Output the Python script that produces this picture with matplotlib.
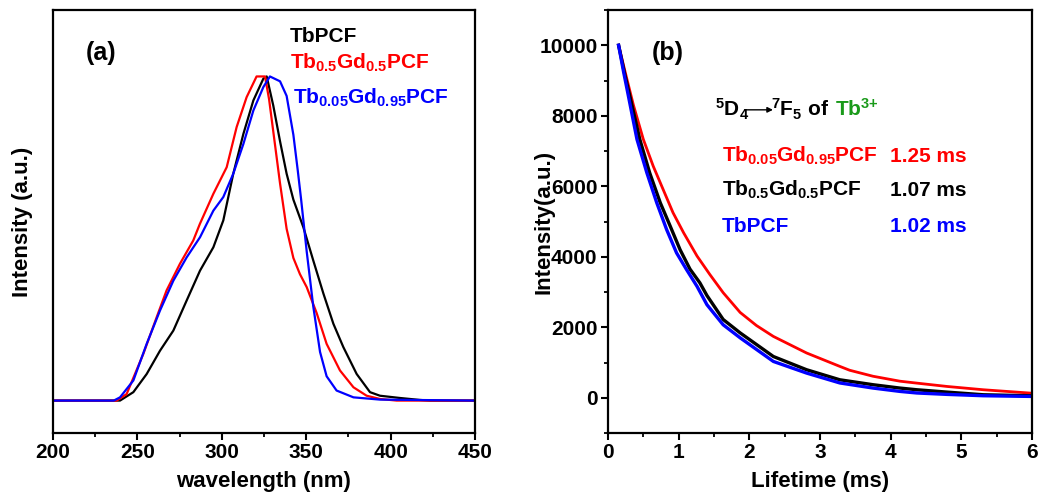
import matplotlib
matplotlib.use('Agg')
import matplotlib.pyplot as plt
from matplotlib.ticker import MultipleLocator

plt.rcParams['font.family'] = ['Liberation Sans', 'DejaVu Sans']
plt.rcParams['font.weight'] = 'bold'
plt.rcParams['mathtext.fontset'] = 'custom'
plt.rcParams['mathtext.rm'] = 'Liberation Sans:bold'
plt.rcParams['mathtext.it'] = 'Liberation Sans:bold'
plt.rcParams['mathtext.bf'] = 'Liberation Sans:bold'
plt.rcParams['mathtext.default'] = 'rm'

# (a) excitation spectra, normalised
tb_wl = [200, 239.7, 247.6, 255.5, 263.4, 271.3, 279.2, 287.1, 295.0, 300.9,
         306.8, 312.8, 318.7, 324.6, 326.6, 330.5, 334.5, 338.4, 342.4, 348.3,
         354.2, 360.2, 366.1, 372.0, 379.9, 387.8, 393.7, 405.6, 417.4, 423.3,
         450]
tb_int = [0, 0, 0.026, 0.082, 0.154, 0.216, 0.309, 0.401, 0.473, 0.556,
          0.70, 0.823, 0.926, 0.993, 1.0, 0.91, 0.80, 0.70, 0.62, 0.535,
          0.432, 0.33, 0.237, 0.165, 0.082, 0.026, 0.015, 0.008, 0.002, 0,
          0]

tb05_wl = [200, 237.7, 243.6, 248.0, 253.5, 261.4, 267.3, 275.2, 283.1, 287.0,
           295.0, 302.9, 308.8, 314.7, 320.6, 325.6, 328.0, 330.5, 334.5, 338.4,
           342.4, 346.3, 350.3, 356.2, 362.1, 370.0, 378.0, 385.8, 393.7, 403.6,
           450]
tb05_int = [0, 0, 0.02, 0.075, 0.144, 0.257, 0.34, 0.422, 0.494, 0.545,
            0.638, 0.72, 0.844, 0.936, 1.0, 1.0, 0.93, 0.83, 0.67, 0.53,
            0.44, 0.39, 0.35, 0.27, 0.175, 0.093, 0.041, 0.015, 0.005, 0,
            0]

tb005_wl = [200, 236.0, 239.7, 247.6, 255.5, 263.4, 271.3, 279.2, 287.1, 295.0,
            300.9, 306.8, 312.8, 318.7, 324.6, 328.5, 334.5, 338.4, 342.4, 345.0,
            347.0, 350.3, 354.2, 358.2, 362.1, 368.0, 378.0, 393.7, 450]
tb005_int = [0, 0, 0.01, 0.062, 0.175, 0.278, 0.37, 0.442, 0.504, 0.586,
             0.628, 0.70, 0.792, 0.895, 0.967, 1.0, 0.985, 0.94, 0.82, 0.71,
             0.62, 0.46, 0.29, 0.15, 0.075, 0.031, 0.01, 0.003, 0]

# (b) decay curves
red_t = [0.15, 0.26, 0.36, 0.50, 0.64, 0.78, 0.92, 1.07, 1.26, 1.44, 1.63,
         1.87, 2.10, 2.34, 2.81, 3.28, 3.42, 3.75, 4.13, 4.37, 4.80, 5.31,
         5.97]
red_v = [10000, 9100, 8300, 7330, 6570, 5910, 5250, 4680, 4020, 3500, 2980,
         2420, 2050, 1740, 1270, 890, 780, 610, 470, 415, 320, 227,
         133]

blk_t = [0.15, 0.24, 0.31, 0.45, 0.59, 0.74, 0.88, 1.02, 1.16, 1.30, 1.40,
         1.63, 1.87, 2.34, 2.81, 3.28, 3.75, 4.13, 4.37, 4.80, 5.31, 5.97]
blk_v = [10000, 9150, 8550, 7330, 6380, 5530, 4870, 4200, 3650, 3260, 2900,
         2220, 1840, 1170, 795, 510, 370, 275, 227, 160, 85, 57]

blu_t = [0.15, 0.22, 0.26, 0.41, 0.55, 0.69, 0.83, 0.97, 1.11, 1.26, 1.40,
         1.63, 1.87, 2.34, 2.81, 3.28, 3.75, 4.13, 4.37, 4.80, 5.31, 5.97]
blu_v = [10000, 9250, 8850, 7330, 6380, 5530, 4770, 4110, 3640, 3160, 2640,
         2070, 1700, 1030, 700, 420, 275, 180, 135, 95, 57, 38]

fig = plt.figure(figsize=(10.4, 4.99), dpi=100)
ax1 = fig.add_axes([53 / 1040, 66 / 499, 422 / 1040, 423 / 499])
ax2 = fig.add_axes([608 / 1040, 66 / 499, 424 / 1040, 423 / 499])

for ax in (ax1, ax2):
    for s in ax.spines.values():
        s.set_linewidth(1.6)
    ax.tick_params(which='major', direction='out', length=5, width=1.5,
                   labelsize=15, pad=2.5, top=False, right=False)
    ax.tick_params(which='minor', direction='out', length=3, width=1.3,
                   top=False, right=False)

ax1.plot(tb_wl, tb_int, color='black', lw=1.6)
ax1.plot(tb05_wl, tb05_int, color='red', lw=1.6)
ax1.plot(tb005_wl, tb005_int, color='blue', lw=1.6)
ax1.set_xlim(200, 450)
ax1.set_ylim(-0.10, 1.205)
ax1.xaxis.set_major_locator(MultipleLocator(50))
ax1.xaxis.set_minor_locator(MultipleLocator(25))
ax1.set_yticks([])
ax1.set_xlabel('wavelength (nm)', fontsize=16, fontweight='bold')
ax1.set_ylabel('Intensity (a.u.)', fontsize=16, fontweight='bold')
ax1.xaxis.set_label_coords(0.5, -0.09)
ax1.yaxis.set_label_coords(-0.047, 0.5)

ax1.text(0.078, 0.882, '(a)', transform=ax1.transAxes, fontsize=18,
         fontweight='bold', va='baseline')
ax1.text(0.562, 0.925, 'TbPCF', transform=ax1.transAxes, fontsize=15,
         color='black', va='baseline')
ax1.text(0.562, 0.862, r'Tb$_{0.5}$Gd$_{0.5}$PCF', transform=ax1.transAxes,
         fontsize=15, color='red', va='baseline')
ax1.text(0.568, 0.779, r'Tb$_{0.05}$Gd$_{0.95}$PCF', transform=ax1.transAxes,
         fontsize=15, color='blue', va='baseline')

ax2.plot(red_t, red_v, color='red', lw=2.0)
ax2.plot(blk_t, blk_v, color='black', lw=2.4)
ax2.plot(blu_t, blu_v, color='blue', lw=2.4)
ax2.set_xlim(0, 6)
ax2.set_ylim(-1000, 11000)
ax2.xaxis.set_major_locator(MultipleLocator(1))
ax2.xaxis.set_minor_locator(MultipleLocator(0.5))
ax2.yaxis.set_major_locator(MultipleLocator(2000))
ax2.yaxis.set_minor_locator(MultipleLocator(1000))
ax2.set_yticks([0, 2000, 4000, 6000, 8000, 10000])
ax2.set_xlabel('Lifetime (ms)', fontsize=16, fontweight='bold')
ax2.set_ylabel('Intensity(a.u.)', fontsize=16, fontweight='bold')
ax2.xaxis.set_label_coords(0.5, -0.09)
ax2.yaxis.set_label_coords(-0.125, 0.5)

ax2.text(0.104, 0.882, '(b)', transform=ax2.transAxes, fontsize=18,
         fontweight='bold', va='baseline')

# transition label: 5D4 -> 7F5 of Tb3+
ax2.text(0.252, 0.749, r'$^{5}$D$_{4}$', transform=ax2.transAxes,
         fontsize=15, color='black', va='baseline')
ax2.annotate('', xy=(0.389, 0.764), xytext=(0.322, 0.764),
             xycoords='axes fraction',
             arrowprops=dict(arrowstyle='-|>', lw=1.0, color='black',
                             mutation_scale=8, shrinkA=0, shrinkB=0))
t2 = ax2.text(0.384, 0.749, r'$^{7}$F$_{5}$ of', transform=ax2.transAxes,
              fontsize=15, color='black', va='baseline')
fig.canvas.draw()
bb = t2.get_window_extent().transformed(ax2.transAxes.inverted())
ax2.text(bb.x1 + 0.014, 0.749, r'Tb$^{3{+}}$', transform=ax2.transAxes,
         fontsize=15, color='#1a9a1a', va='baseline')

rows = [(r'Tb$_{0.05}$Gd$_{0.95}$PCF', '1.25 ms', 'red', 0.641),
        (r'Tb$_{0.5}$Gd$_{0.5}$PCF', '1.07 ms', 'black', 0.560),
        ('TbPCF', '1.02 ms', 'blue', 0.474)]
for name, tau, col, y in rows:
    ax2.text(0.269, y, name, transform=ax2.transAxes, fontsize=15, color=col,
             va='baseline')
    ax2.text(0.665, y, tau, transform=ax2.transAxes, fontsize=15, color=col,
             va='baseline')

fig.savefig('out.png', dpi=100)
